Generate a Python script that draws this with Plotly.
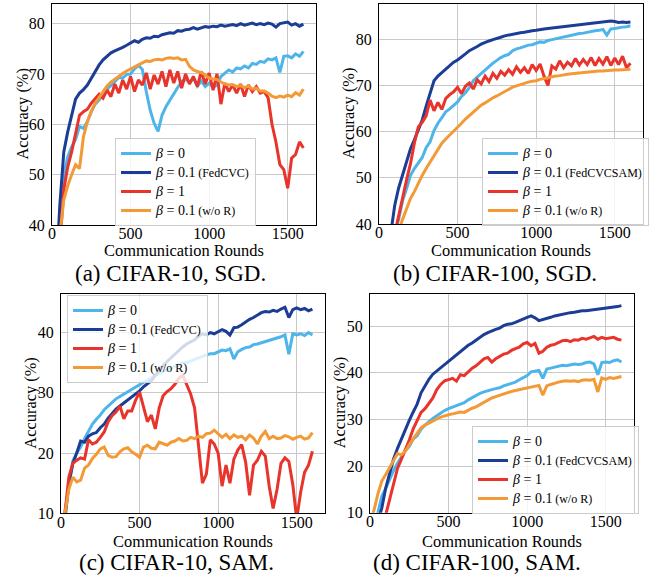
import plotly.graph_objects as go

ROUNDS = list(range(0, 1601, 25))

# ---------- (a) CIFAR-10, SGD ----------
A_B0 = [20, 30, 41, 50, 53.5, 55.5, 57, 59.6, 59.2, 60.5, 62.5, 64, 64.8, 66, 67, 67.7, 68.6, 69.3, 69.2, 69.9,
        70, 71, 71.7, 70.9, 66.5, 62.8, 60.2, 58.6, 61.8, 63.5, 64.8, 66.2, 67.3, 68.5, 69, 68.3, 69.2, 67.6, 68.6, 67.5,
        68.2, 67.3, 67.8, 69.5, 70.2, 70.8, 70.4, 71.2, 71, 71.6, 71.2, 72.1, 71.9, 72.5, 72.3, 73, 72.8, 73.2, 70.3, 73.5,
        73.6, 73.2, 74, 73.5, 74.5]
A_FEDCVC = [20, 30, 44, 54.5, 58.5, 62, 65, 66.2, 66.9, 67.8, 69.2, 70.4, 71.8, 72.8, 73.6, 74.2, 74.6, 74.9, 75.3, 75.7,
            76.2, 76.6, 76.3, 76.9, 77.2, 77.1, 77.5, 77.4, 77.8, 78.0, 78.2, 78.1, 78.6, 78.5, 78.8, 78.9, 79.2, 78.9, 79.2, 79.4,
            79.3, 79.5, 79.4, 79.7, 79.5, 79.6, 79.8, 79.6, 80.0, 79.7, 79.9, 80.1, 79.8, 80.0, 79.8, 80.1, 79.9, 79.3, 80.0, 80.1,
            80.3, 79.7, 80.0, 79.5, 79.9]
A_B1 = [18, 26, 36, 47, 51.5, 54.5, 58.5, 61.8, 62.5, 63, 64.2, 65.2, 66, 65.2, 66.8, 65.5, 68, 66.2, 68.8, 67,
        69.5, 66.5, 68.8, 67.8, 70.2, 67, 69.8, 68, 70.5, 67.5, 70.8, 68.2, 70.5, 67.2, 70, 68, 69.5, 67.5, 70.5, 68,
        70.2, 66.8, 70, 64, 68.2, 66.5, 67.8, 66.2, 68, 65.5, 67.8, 66.5, 67.5, 66.2, 66.5, 65.3, 60, 56.5, 52, 51,
        47.3, 53.3, 54, 56.5, 55.3]
A_WOR = [18, 28, 38, 45, 47.8, 50, 52, 51.2, 57.5, 60.5, 62.6, 64.2, 65.3, 66.5, 67.6, 68.4, 69, 69.6, 70.1, 70.6,
         71, 71.4, 71.8, 72.2, 72.6, 72.5, 72.8, 72.9, 72.8, 73.1, 73.2, 73.1, 73.2, 72.8, 72.9, 71.5, 70.8, 70.5, 70.3, 69.8,
         69.2, 69, 68.9, 68.4, 68, 67.8, 67.9, 67.5, 67.7, 67.3, 67.6, 67, 67.2, 66.6, 66.6, 66.2, 65.6, 65.3, 65.6, 65.4,
         65.8, 65.5, 66.3, 65.8, 67]

# ---------- (b) CIFAR-100, SGD ----------
B_B0 = [20, 24, 30, 34, 38, 41, 45, 47.6, 50.5, 52, 53.2, 54.4, 56.5, 57.8, 60.2, 61.8, 63, 64.3, 64.9, 65.7,
        66.4, 67.6, 68.4, 69.5, 71, 71.8, 72.6, 73.4, 74.2, 74.8, 75.4, 76, 76.4, 76.7, 77.5, 77.9, 78.1, 78.4, 78.7, 78.8,
        79.1, 79.4, 79.3, 79.7, 79.9, 80.1, 80.2, 80.5, 80.6, 80.8, 81.0, 81.2, 81.3, 81.5, 81.6, 81.8, 81.9, 82.1, 80.9, 82.2,
        82.3, 82.5, 82.6, 82.7, 82.9]
B_FEDCVCSAM = [20, 26, 32, 38, 44, 47.8, 50.6, 53.5, 56.2, 58.2, 60.5, 62.5, 65.5, 68.5, 71, 72, 72.8, 73.5, 74.3, 75,
               75.5, 76.1, 76.8, 77.5, 77.9, 78.4, 78.9, 79.3, 79.6, 79.9, 80.1, 80.4, 80.7, 80.9, 81.1, 81.2, 81.4, 81.5, 81.7, 81.8,
               81.9, 82.1, 82.2, 82.3, 82.4, 82.5, 82.6, 82.7, 82.8, 82.9, 83, 83.1, 83.2, 83.2, 83.4, 83.5, 83.5, 83.6, 83.7, 83.9,
               83.8, 83.6, 83.7, 83.6, 83.7]
B_B1 = [20, 24, 30, 34, 38, 42, 46.2, 49.5, 53, 57.5, 61, 62, 63.4, 66.8, 64.5, 66.3, 64.8, 67.2, 68, 68.6,
        69.6, 68.2, 69.8, 70.5, 69.2, 71.2, 70.3, 72, 70.8, 72.6, 71.5, 73, 72.2, 73.4, 72.4, 74, 72.8, 73.8, 72.6, 74.5,
        73.2, 74.6, 72, 70, 74.2, 73.5, 75.3, 73.8, 75, 74.2, 75.8, 74.4, 75.6, 74.5, 76, 74.3, 75.8, 74.6, 76.2, 74.3,
        75.9, 74.5, 76.3, 73.8, 74.8]
B_WOR = [18, 22, 27, 31, 35, 38.5, 41, 43.3, 45.5, 47, 48.8, 50.5, 52, 53.4, 54.8, 56, 57.5, 58.4, 59.2, 60.2,
         60.9, 61.8, 62.7, 63.5, 64.3, 65, 65.7, 66.2, 66.8, 67.3, 67.7, 68.2, 68.6, 69.1, 69.6, 69.9, 70.2, 70.5, 70.7, 70.9,
         71, 71.3, 71.5, 71.7, 71.9, 72, 72.1, 72.3, 72.4, 72.5, 72.6, 72.7, 72.8, 72.9, 73, 73, 73.1, 73.1, 73.2, 73.2,
         73.3, 73.3, 73.4, 73.4, 73.5]

# ---------- (c) CIFAR-10, SAM ----------
C_B0 = [6, 10, 14.5, 18.7, 20, 21, 22.4, 23.6, 24.8, 25.6, 26.3, 27.2, 27.8, 28.4, 29, 29.4, 29.8, 30.2, 30.6, 31,
        31.3, 31.8, 32.2, 32.5, 32.9, 33.2, 33.5, 33.9, 34.2, 34.5, 34.8, 35, 35, 35.2, 35.5, 35.8, 36, 36.3, 36.5, 36.5,
        36.8, 37.1, 37, 37.3, 35.6, 36.8, 37.2, 37.5, 37.6, 38, 38.1, 38.3, 38.5, 38.6, 38.8, 39.1, 39.3, 39.6, 36.4, 39.8,
        39.6, 39.8, 39.5, 40, 39.6]
C_FEDCVC = [5, 9, 15, 18.2, 20, 22, 21.8, 22.8, 23.2, 23.4, 24.2, 24.8, 25.8, 26.5, 27.3, 27.8, 28.3, 28.8, 29.4, 29.8,
            30.3, 31, 31.5, 32, 32.9, 33.8, 34.5, 35.2, 35.8, 36.5, 37, 37.6, 38.1, 38.5, 38.8, 39.4, 39.8, 39.6, 40, 39.8,
            40.1, 40.5, 40.2, 39.6, 40.8, 40.9, 41.3, 41.8, 42.2, 42.5, 42.9, 43.3, 43.5, 43.4, 43.7, 43.5, 43.9, 44.2, 42.5, 43.8,
            44.1, 43.8, 44, 43.6, 43.9]
C_B1 = [5, 10, 16, 18.3, 18.8, 19.2, 19, 22.2, 21.5, 21.8, 22.6, 23.5, 25.2, 26.2, 26.8, 27.8, 25.7, 27, 27, 28.8,
        30.1, 27.5, 25.2, 26.3, 24, 27.5, 29.5, 30.2, 30.7, 31.4, 32.4, 32.9, 31.5, 29.8, 27.5, 21, 15, 16.5, 22.2, 21.5,
        20, 14.5, 18, 15, 19, 20.5, 21.4, 18.5, 13, 18, 18.8, 20.3, 19.5, 14.5, 10.8, 14, 18.3, 19.2, 18.6, 14.8,
        9, 13.5, 16.8, 18, 20.3]
C_WOR = [6, 10, 14, 16, 15.2, 15.5, 17.5, 18, 19.1, 19.8, 20.7, 21, 19.6, 19.3, 19.4, 20.2, 20.7, 20.9, 20.2, 19.8,
         19.3, 21, 21.3, 20.8, 20.7, 21.8, 21.5, 21.3, 21.8, 22, 22.4, 22, 22.1, 22.6, 22.4, 22.8, 22.6, 23.2, 23.3, 23.8,
         23.2, 22.6, 23.1, 22.4, 23, 22.6, 22.8, 22.2, 23, 22.5, 21.5, 22.8, 23.6, 22.4, 22.8, 22.4, 22.5, 22.9, 22.7, 22.3,
         22.6, 22.8, 22.3, 22.5, 23.4]

# ---------- (d) CIFAR-100, SAM ----------
D_B0 = [3, 5, 10, 13.5, 15.2, 17.2, 19, 20.6, 21.9, 23.3, 24.2, 25.8, 26.5, 27.9, 28.8, 29.6, 30.2, 30.8, 31.4, 31.9,
        32.3, 32.6, 33, 33.3, 33.6, 34.2, 34.7, 35.2, 35.6, 35.9, 36.2, 36.4, 36.6, 36.8, 37.2, 37.5, 37.8, 38, 38.5, 39,
        39.4, 40.2, 40.3, 40.5, 38.8, 40.8, 41, 41.2, 41.3, 41.6, 41.5, 41.7, 41.9, 41.8, 41.9, 42.2, 42.3, 41.9, 39.6, 42.2,
        42.3, 42.2, 42.6, 42.8, 42.3]
D_FEDCVCSAM = [2, 5, 8, 11, 15.3, 18.5, 21.5, 23.8, 25.9, 28, 29.8, 31.6, 33.3, 35.7, 37.2, 38.6, 39.7, 40.4, 41.1, 41.7,
               42.3, 43.2, 43.9, 44.6, 45.2, 45.9, 46.4, 47, 47.6, 48.2, 48.6, 49, 49.3, 49.6, 50.1, 50.4, 50.5, 50.8, 51.2, 51.6,
               51.9, 52.2, 51.8, 51.2, 51.4, 51.7, 51.9, 52.2, 52.4, 52.6, 52.7, 52.9, 53, 53.2, 53.3, 53.3, 53.4, 53.5, 53.6, 53.8,
               53.9, 54, 54.1, 54.2, 54.4]
D_B1 = [0, 2, 5, 8, 9.5, 13, 16, 19.5, 21.5, 23.5, 25.6, 28, 29.8, 31.5, 32.3, 33.4, 34.6, 36.4, 37.5, 38.3,
        38.6, 38.8, 38.2, 39.6, 39.4, 40.2, 41, 41.5, 42.2, 43, 43.3, 42.3, 43, 43.5, 44, 44.2, 44.8, 45.2, 45.5, 46.2,
        46.5, 45.8, 46.3, 44.2, 44.6, 45.5, 45.9, 46.1, 46.5, 46.9, 47, 46.7, 47.1, 47, 47.4, 47.2, 47.5, 47.8, 47.2, 47.6,
        47.3, 47.5, 47.6, 47.2, 47]
D_WOR = [8, 10.5, 14, 16.8, 18.2, 19.6, 21.2, 22.7, 22.4, 23.2, 24.6, 25.9, 27, 28.2, 28.8, 29.2, 29.7, 30.1, 30.5, 30.8,
         31, 31.2, 31.4, 31.6, 31.5, 32, 32.4, 32.7, 33.2, 33.7, 34.2, 34.6, 34.9, 35.2, 35.5, 35.8, 36, 36.2, 36.4, 36.6,
         36.8, 37, 37.2, 37.3, 35.2, 37.2, 37.5, 37.8, 38, 38.2, 38.3, 38.2, 38.3, 38.1, 38.4, 38.5, 38.4, 38.6, 35.9, 38.9,
         38.6, 39, 38.8, 39, 39.2]

X_TICKS = [0, 500, 1000, 1500]
COLORS = ["#4db5ea", "#1c3d95", "#e8342a", "#f39a37"]

W, H = 657, 577
FONT = "Liberation Serif, Times New Roman, DejaVu Serif, serif"


def fx(p):
    return p / W


def fy(p):
    return 1 - p / H


panels = [
    dict(series=[A_B0, A_FEDCVC, A_B1, A_WOR], tag="FedCVC", box=(52, 316, 4, 225), yr=[40, 83.9],
         yticks=[40, 50, 60, 70, 80], leg=(115, 138), ylab=22, caption="(a) CIFAR-10, SGD.", capx=170,
         xt=250.5, cap=273),
    dict(series=[B_B0, B_FEDCVCSAM, B_B1, B_WOR], tag="FedCVCSAM", box=(379, 643, 4, 224), yr=[40, 87.6],
         yticks=[40, 50, 60, 70, 80], leg=(482, 138), ylab=348, caption="(b) CIFAR-100, SGD.", capx=495,
         xt=250.5, cap=273),
    dict(series=[C_B0, C_FEDCVC, C_B1, C_WOR], tag="FedCVC", box=(61, 325, 294, 513.3), yr=[10, 46.4],
         yticks=[10, 20, 30, 40], leg=(67, 295), ylab=31, caption="(c) CIFAR-10, SAM.", capx=176,
         xt=541.5, cap=562.5),
    dict(series=[D_B0, D_FEDCVCSAM, D_B1, D_WOR], tag="FedCVCSAM", box=(370, 634, 294, 512.7), yr=[10, 56.9],
         yticks=[10, 20, 30, 40, 50], leg=(472, 426), ylab=339, caption="(d) CIFAR-100, SAM.", capx=477,
         xt=541.5, cap=562.5),
]

fig = go.Figure()
layout = dict(template="none", width=W, height=H, margin=dict(l=0, r=0, t=0, b=0, pad=0),
              paper_bgcolor="white", plot_bgcolor="white",
              font=dict(family=FONT, color="black"), annotations=[])

for i, p in enumerate(panels):
    k = "" if i == 0 else str(i + 1)
    big = "<span style='font-size:14px'>%s</span>"
    small = "<span style='font-size:12px'>%s</span>"
    names = [big % "<i>β</i> = 0",
             big % "<i>β</i> = 0.1" + " " + small % ("(%s)" % p["tag"]),
             big % "<i>β</i> = 1",
             big % "<i>β</i> = 0.1" + " " + small % "(w/o R)"]
    legname = "legend" if i == 0 else "legend%d" % (i + 1)
    for s, c, n in zip(p["series"], COLORS, names):
        fig.add_trace(go.Scatter(x=ROUNDS[:len(s)], y=s, mode="lines", name=n,
                                 line=dict(color=c, width=3), xaxis="x" + k, yaxis="y" + k,
                                 legend=legname))
    x0, x1, y0, y1 = p["box"]
    common = dict(showgrid=True, gridcolor="#c9c9c9", gridwidth=1, zeroline=False, showline=True,
                  mirror=True, linecolor="black", linewidth=1, ticks="", automargin=False,
                  tickfont=dict(family=FONT, size=16, color="black"))
    layout["xaxis" + k] = dict(domain=[fx(x0), fx(x1)], range=[0, 1680], tickvals=X_TICKS,
                               anchor="y" + k, ticklabelstandoff=-6, **common)
    layout["yaxis" + k] = dict(domain=[fy(y1), fy(y0)], range=p["yr"], tickvals=p["yticks"],
                               anchor="x" + k, ticklabelstandoff=3, **common)
    layout[legname] = dict(x=fx(p["leg"][0]), y=fy(p["leg"][1]), xanchor="left", yanchor="top",
                           bgcolor="rgba(255,255,255,0.8)", bordercolor="#cccccc", borderwidth=1,
                           font=dict(family=FONT, size=11, color="black"), tracegroupgap=0)
    cx = (x0 + x1) / 2
    ann = dict(xref="paper", yref="paper", showarrow=False, xanchor="center", yanchor="middle",
               borderpad=0)
    layout["annotations"].append(dict(text="Communication Rounds", x=fx(cx), y=fy(p["xt"]),
                                      font=dict(family=FONT, size=16.4, color="black"), **ann))
    layout["annotations"].append(dict(text="Accuracy (%)", x=fx(p["ylab"]), y=fy((y0 + y1) / 2),
                                      textangle=-90, font=dict(family=FONT, size=16.4, color="black"), **ann))
    layout["annotations"].append(dict(text=p["caption"], x=fx(p["capx"]), y=fy(p["cap"]),
                                      font=dict(family=FONT, size=23, color="black"), **ann))

fig.update_layout(**layout)
fig.write_html("out.html", config={"displayModeBar": False},
               post_script="document.body.style.margin='0px';")
